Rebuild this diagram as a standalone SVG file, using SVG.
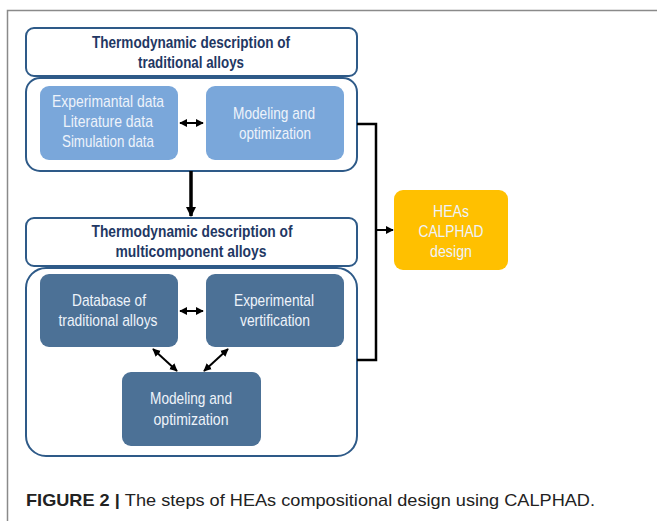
<svg xmlns="http://www.w3.org/2000/svg" width="657" height="521" viewBox="0 0 657 521">
<defs>
<style>
.frame{fill:none;stroke:#8a8a8a;stroke-width:1.5}
.hdr{fill:#fff;stroke:#2e5a88;stroke-width:2}
.body{fill:#fff;stroke:#2e5a88;stroke-width:2}
.lt{fill:#7aa7da}
.dk{fill:#4c7196}
.or{fill:#ffc000}
.ht{font-family:"Liberation Sans",Arial,sans-serif;font-size:16.5px;font-weight:bold;fill:#1f3864;text-anchor:middle}
.wt{font-family:"Liberation Sans",Arial,sans-serif;font-size:17px;fill:#eef3fa;text-anchor:middle}
.cap{font-family:"Liberation Sans",Arial,sans-serif;font-size:17px;fill:#222}
.ln{fill:none;stroke:#000;stroke-width:2.5}
.thin{fill:none;stroke:#000;stroke-width:2}
</style>
<marker id="ah" viewBox="0 0 10 10" refX="9" refY="5" markerWidth="4" markerHeight="4" orient="auto-start-reverse" markerUnits="strokeWidth"><path d="M0,0 L10,5 L0,10 z" fill="#000"/></marker>
<marker id="ahb" viewBox="0 0 10 10" refX="9" refY="5" markerWidth="3" markerHeight="3" orient="auto" markerUnits="strokeWidth"><path d="M0,0 L10,5 L0,10 z" fill="#000"/></marker>
</defs>
<rect class="frame" x="7.5" y="10.5" width="660" height="520"/>

<g id="n-header1">
<rect class="hdr" x="26" y="28" width="331" height="48" rx="8"/>
<text class="ht" x="191" y="48" textLength="198" lengthAdjust="spacingAndGlyphs">Thermodynamic description of</text>
<text class="ht" x="191" y="68" textLength="106" lengthAdjust="spacingAndGlyphs">traditional alloys</text>
</g>
<g id="n-body1">
<rect class="body" x="26" y="78" width="331" height="93" rx="14"/>
</g>
<g id="n-data">
<rect class="lt" x="40" y="86" width="138" height="74" rx="9"/>
<text class="wt" x="108" y="107" textLength="112" lengthAdjust="spacingAndGlyphs">Experimantal data</text>
<text class="wt" x="108" y="127" textLength="90" lengthAdjust="spacingAndGlyphs">Literature data</text>
<text class="wt" x="108" y="147" textLength="92" lengthAdjust="spacingAndGlyphs">Simulation data</text>
</g>
<g id="n-model1">
<rect class="lt" x="206" y="86" width="138" height="74" rx="9"/>
<text class="wt" x="274" y="119" textLength="82" lengthAdjust="spacingAndGlyphs">Modeling and</text>
<text class="wt" x="275" y="139" textLength="72" lengthAdjust="spacingAndGlyphs">optimization</text>
</g>
<g id="n-header2">
<rect class="hdr" x="26" y="218" width="331" height="48" rx="8"/>
<text class="ht" x="192" y="237" textLength="201" lengthAdjust="spacingAndGlyphs">Thermodynamic description of</text>
<text class="ht" x="191" y="257" textLength="151" lengthAdjust="spacingAndGlyphs">multicomponent alloys</text>
</g>
<g id="n-body2">
<rect class="body" x="26" y="268" width="331" height="188" rx="20"/>
</g>
<g id="n-database">
<rect class="dk" x="40" y="274" width="138" height="73" rx="9"/>
<text class="wt" x="109" y="306" textLength="74" lengthAdjust="spacingAndGlyphs">Database of</text>
<text class="wt" x="108" y="326" textLength="99" lengthAdjust="spacingAndGlyphs">traditional alloys</text>
</g>
<g id="n-exp">
<rect class="dk" x="206" y="274" width="138" height="73" rx="9"/>
<text class="wt" x="274" y="306" textLength="80" lengthAdjust="spacingAndGlyphs">Experimental</text>
<text class="wt" x="275" y="326" textLength="70" lengthAdjust="spacingAndGlyphs">vertification</text>
</g>
<g id="n-model2">
<rect class="dk" x="122" y="372" width="139" height="74" rx="9"/>
<text class="wt" x="191" y="404" textLength="82" lengthAdjust="spacingAndGlyphs">Modeling and</text>
<text class="wt" x="191" y="425" textLength="75" lengthAdjust="spacingAndGlyphs">optimization</text>
</g>
<g id="n-heas">
<rect class="or" x="394" y="190" width="114" height="80" rx="9"/>
<text class="wt" x="451" y="217" textLength="36" lengthAdjust="spacingAndGlyphs">HEAs</text>
<text class="wt" x="451" y="237" textLength="65" lengthAdjust="spacingAndGlyphs">CALPHAD</text>
<text class="wt" x="451" y="257" textLength="42" lengthAdjust="spacingAndGlyphs">design</text>
</g>

<g id="connectors">
<line class="thin" x1="180" y1="123" x2="203" y2="123" marker-start="url(#ah)" marker-end="url(#ah)"/>
<line class="thin" x1="180" y1="311" x2="203" y2="311" marker-start="url(#ah)" marker-end="url(#ah)"/>
<line x1="191" y1="171" x2="191" y2="216" stroke="#000" stroke-width="3.5" marker-end="url(#ahb)"/>
<line class="thin" x1="153" y1="349" x2="177" y2="371" marker-start="url(#ah)" marker-end="url(#ah)"/>
<line class="thin" x1="228" y1="349" x2="204" y2="371" marker-start="url(#ah)" marker-end="url(#ah)"/>
<polyline class="ln" points="357,124 376,124 376,360 357,360"/>
<line class="thin" x1="376" y1="230" x2="393" y2="230" marker-end="url(#ah)"/>
</g>

<text class="cap" x="26" y="506" textLength="569" lengthAdjust="spacingAndGlyphs"><tspan font-weight="bold">FIGURE 2 | </tspan>The steps of HEAs compositional design using CALPHAD.</text>
</svg>
